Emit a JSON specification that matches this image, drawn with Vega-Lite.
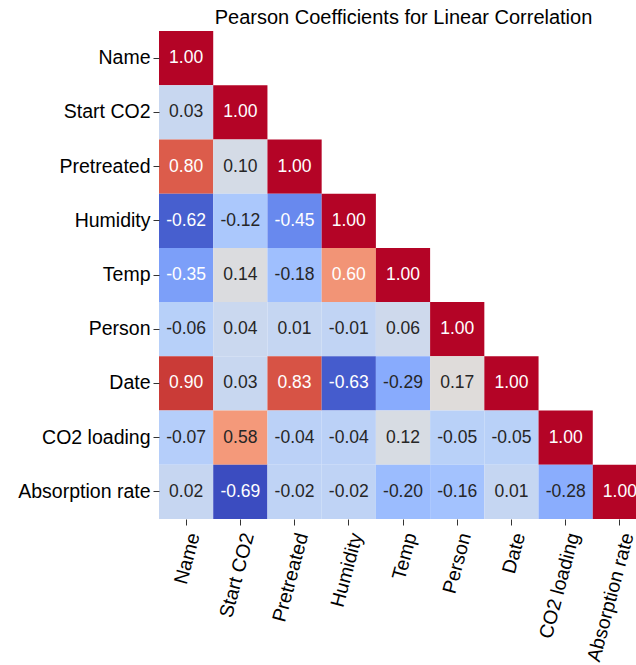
{
  "$schema": "https://vega.github.io/schema/vega-lite/v6.json",
  "autosize": {"type": "none"},
  "padding": {"left": 159, "top": 31, "right": 0, "bottom": 146},
  "width": 477,
  "height": 488,
  "background": "white",
  "config": {
    "font": "Liberation Sans",
    "view": {"stroke": null},
    "locale": {"number": {"decimal": ".", "thousands": ",", "grouping": [3], "currency": ["$", ""], "minus": "-"}}
  },
  "title": {
    "text": "Pearson Coefficients for Linear Correlation",
    "fontSize": 20,
    "fontWeight": "normal",
    "color": "black",
    "anchor": "middle",
    "dx": 6,
    "offset": 3
  },
  "data": {
    "values": [
      {"row": "Name", "col": "Name", "r": 1.00},
      {"row": "Start CO2", "col": "Name", "r": 0.03},
      {"row": "Start CO2", "col": "Start CO2", "r": 1.00},
      {"row": "Pretreated", "col": "Name", "r": 0.80},
      {"row": "Pretreated", "col": "Start CO2", "r": 0.10},
      {"row": "Pretreated", "col": "Pretreated", "r": 1.00},
      {"row": "Humidity", "col": "Name", "r": -0.62},
      {"row": "Humidity", "col": "Start CO2", "r": -0.12},
      {"row": "Humidity", "col": "Pretreated", "r": -0.45},
      {"row": "Humidity", "col": "Humidity", "r": 1.00},
      {"row": "Temp", "col": "Name", "r": -0.35},
      {"row": "Temp", "col": "Start CO2", "r": 0.14},
      {"row": "Temp", "col": "Pretreated", "r": -0.18},
      {"row": "Temp", "col": "Humidity", "r": 0.60},
      {"row": "Temp", "col": "Temp", "r": 1.00},
      {"row": "Person", "col": "Name", "r": -0.06},
      {"row": "Person", "col": "Start CO2", "r": 0.04},
      {"row": "Person", "col": "Pretreated", "r": 0.01},
      {"row": "Person", "col": "Humidity", "r": -0.01},
      {"row": "Person", "col": "Temp", "r": 0.06},
      {"row": "Person", "col": "Person", "r": 1.00},
      {"row": "Date", "col": "Name", "r": 0.90},
      {"row": "Date", "col": "Start CO2", "r": 0.03},
      {"row": "Date", "col": "Pretreated", "r": 0.83},
      {"row": "Date", "col": "Humidity", "r": -0.63},
      {"row": "Date", "col": "Temp", "r": -0.29},
      {"row": "Date", "col": "Person", "r": 0.17},
      {"row": "Date", "col": "Date", "r": 1.00},
      {"row": "CO2 loading", "col": "Name", "r": -0.07},
      {"row": "CO2 loading", "col": "Start CO2", "r": 0.58},
      {"row": "CO2 loading", "col": "Pretreated", "r": -0.04},
      {"row": "CO2 loading", "col": "Humidity", "r": -0.04},
      {"row": "CO2 loading", "col": "Temp", "r": 0.12},
      {"row": "CO2 loading", "col": "Person", "r": -0.05},
      {"row": "CO2 loading", "col": "Date", "r": -0.05},
      {"row": "CO2 loading", "col": "CO2 loading", "r": 1.00},
      {"row": "Absorption rate", "col": "Name", "r": 0.02},
      {"row": "Absorption rate", "col": "Start CO2", "r": -0.69},
      {"row": "Absorption rate", "col": "Pretreated", "r": -0.02},
      {"row": "Absorption rate", "col": "Humidity", "r": -0.02},
      {"row": "Absorption rate", "col": "Temp", "r": -0.20},
      {"row": "Absorption rate", "col": "Person", "r": -0.16},
      {"row": "Absorption rate", "col": "Date", "r": 0.01},
      {"row": "Absorption rate", "col": "CO2 loading", "r": -0.28},
      {"row": "Absorption rate", "col": "Absorption rate", "r": 1.00}
    ]
  },
  "encoding": {
    "x": {
      "field": "col", "type": "nominal", "sort": null, "title": null,
      "scale": {"domain": ["Name", "Start CO2", "Pretreated", "Humidity", "Temp", "Person", "Date", "CO2 loading", "Absorption rate"], "range": [0, 488], "paddingInner": 0, "paddingOuter": 0},
      "axis": {"domain": false, "labelAngle": -75, "labelAlign": "right", "labelBaseline": "middle", "labelFontSize": 19.5, "labelColor": "black", "labelPadding": 8, "tickSize": 6, "tickColor": "#333333", "labelOffset": 8}
    },
    "y": {
      "field": "row", "type": "nominal", "sort": null, "title": null,
      "scale": {"domain": ["Name", "Start CO2", "Pretreated", "Humidity", "Temp", "Person", "Date", "CO2 loading", "Absorption rate"], "paddingInner": 0, "paddingOuter": 0},
      "axis": {"domain": false, "labelFontSize": 19.5, "labelColor": "black", "labelPadding": 3, "tickSize": 6, "tickColor": "#333333"}
    }
  },
  "layer": [
    {
      "mark": {"type": "rect"},
      "encoding": {
        "color": {
          "field": "r", "type": "quantitative", "legend": null,
          "scale": {
            "domain": [-0.69, 1.0],
            "interpolate": "rgb",
            "range": ["#3b4cc0", "#4d68d7", "#6282ea", "#779af7", "#8db0fe", "#a3c2fe", "#b8d0f9", "#ccd9ee", "#dddddd", "#ecd3c5", "#f5c4ac", "#f7b194", "#f49a7b", "#ec7f63", "#de604d", "#cb3e38", "#b40426"]
          }
        }
      }
    },
    {
      "mark": {"type": "text", "fontSize": 17.5},
      "encoding": {
        "text": {"field": "r", "type": "quantitative", "format": ".2f"},
        "color": {
          "condition": {"test": "datum.r >= 0.6 || datum.r <= -0.35", "value": "white"},
          "value": "#262626"
        }
      }
    }
  ]
}
